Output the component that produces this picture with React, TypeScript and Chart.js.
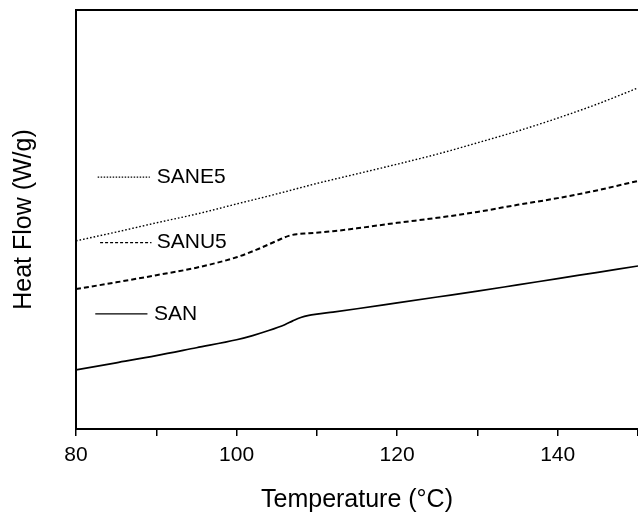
import React, { useEffect, useRef } from "react";
import { Chart, registerables } from "chart.js";

Chart.register(...registerables);

// Temperature (°C)
const sanTemps = [80, 85, 90, 95, 100, 102, 104, 106, 107, 108, 109, 110, 112, 115, 120, 125, 130, 135, 140, 145, 150];
// Heat flow (arbitrary units)
const san = [14.1, 15.8, 17.5, 19.4, 21.3, 22.3, 23.5, 24.9, 25.8, 26.6, 27.1, 27.4, 27.9, 28.7, 30.1, 31.5, 32.9, 34.4, 35.9, 37.4, 38.9];
const sanuTemps = [80, 85, 90, 95, 100, 102.5, 105, 106.5, 107.5, 109, 112, 115, 120, 125, 130, 135, 140, 145, 150];
const sanu5 = [33.4, 35.0, 36.7, 38.5, 41.0, 42.8, 44.9, 46.1, 46.5, 46.7, 47.2, 47.9, 49.2, 50.4, 51.8, 53.5, 55.1, 57.0, 59.2];
const saneTemps = [80, 85, 90, 95, 100, 105, 110, 115, 120, 125, 130, 135, 140, 145, 150];
const sane5 = [44.9, 47.0, 49.2, 51.3, 53.7, 56.1, 58.6, 60.9, 63.2, 65.6, 68.3, 71.1, 74.2, 77.6, 81.4];

const xTickLabels = [80, 100, 120, 140];

// In-plot labels
const labelNames = ["SANE5", "SANU5", "SAN"];
const labelLineStart = [82.7, 83.0, 82.4];
const labelLineEnd = [89.2, 89.4, 88.9];
const labelTextT = [90.06, 90.06, 89.7];
const labelLevel = [60.1, 44.5, 27.5];
const labelDash = [[1.5, 1.5], [3, 2], []];
const labelWidth = [1.2, 1.3, 1.3];

const FONT = "'Liberation Sans', Arial, Helvetica, sans-serif";

const pair = (xs: number[], ys: number[]) => xs.map((x, i) => ({ x, y: ys[i] }));

const annotPlugin = {
  id: "annot",
  afterDatasetsDraw(chart: any) {
    const { ctx, chartArea, scales } = chart;
    const xs = scales.x;
    const ys = scales.y;
    ctx.save();
    ctx.strokeStyle = "#000";
    ctx.lineWidth = 2;
    ctx.setLineDash([]);
    ctx.beginPath();
    ctx.moveTo(chartArea.left - 1, chartArea.top);
    ctx.lineTo(chartArea.right, chartArea.top);
    ctx.stroke();
    ctx.font = `21px ${FONT}`;
    ctx.fillStyle = "#000";
    ctx.textBaseline = "middle";
    ctx.textAlign = "left";
    for (let i = 0; i < labelNames.length; i++) {
      const y = ys.getPixelForValue(labelLevel[i]);
      ctx.lineWidth = labelWidth[i];
      ctx.setLineDash(labelDash[i]);
      ctx.beginPath();
      ctx.moveTo(xs.getPixelForValue(labelLineStart[i]), y);
      ctx.lineTo(xs.getPixelForValue(labelLineEnd[i]), y);
      ctx.stroke();
      ctx.setLineDash([]);
      ctx.fillText(labelNames[i], xs.getPixelForValue(labelTextT[i]), y);
    }
    ctx.restore();
  },
};

export default function App() {
  const ref = useRef<HTMLCanvasElement | null>(null);
  useEffect(() => {
    if (!ref.current) return;
    const chart = new Chart(ref.current, {
      type: "line",
      data: {
        datasets: [
          {
            label: "SAN",
            data: pair(sanTemps, san),
            borderColor: "#000",
            borderWidth: 1.7,
            pointRadius: 0,
            cubicInterpolationMode: "monotone",
          },
          {
            label: "SANU5",
            data: pair(sanuTemps, sanu5),
            borderColor: "#000",
            borderWidth: 2,
            borderDash: [5, 3],
            pointRadius: 0,
            cubicInterpolationMode: "monotone",
          },
          {
            label: "SANE5",
            data: pair(saneTemps, sane5),
            borderColor: "#000",
            borderWidth: 1.4,
            borderDash: [1.6, 2],
            pointRadius: 0,
            cubicInterpolationMode: "monotone",
          },
        ],
      },
      options: {
        animation: false,
        responsive: false,
        layout: { padding: { top: 10, right: 4, left: 0, bottom: 0 } },
        plugins: { legend: { display: false }, tooltip: { enabled: false } },
        scales: {
          x: {
            type: "linear",
            min: 80,
            max: 150,
            afterFit: (s: any) => {
              s.height = 84;
            },
            border: { display: true, color: "#000", width: 2 },
            grid: {
              display: true,
              drawOnChartArea: false,
              drawTicks: true,
              tickLength: 7,
              color: "#000",
              lineWidth: 1.5,
            },
            ticks: {
              stepSize: 10,
              autoSkip: false,
              maxRotation: 0,
              padding: 7,
              color: "#000",
              font: { size: 21, family: FONT },
              callback: (v: any) => (xTickLabels.includes(Number(v)) ? String(v) : ""),
            },
            title: {
              display: true,
              text: "Temperature (°C)",
              color: "#000",
              font: { size: 25, family: FONT, lineHeight: 1 },
              padding: { top: 0, bottom: 0 },
            },
          },
          y: {
            type: "linear",
            min: 0,
            max: 100,
            afterFit: (s: any) => {
              s.width = 76;
            },
            border: { display: true, color: "#000", width: 2 },
            grid: { display: false },
            ticks: { display: false },
            title: {
              display: true,
              text: "Heat Flow (W/g)",
              color: "#000",
              font: { size: 25, family: FONT, lineHeight: 1 },
              padding: { top: 12, bottom: 0 },
            },
          },
        },
      },
      plugins: [annotPlugin],
    });
    return () => chart.destroy();
  }, []);
  return (
    <div
      style={{
        position: "fixed",
        left: 0,
        top: 0,
        width: 638,
        height: 513,
        overflow: "hidden",
        background: "#fff",
      }}
    >
      <canvas ref={ref} width={645} height={513} style={{ display: "block" }} />
    </div>
  );
}
